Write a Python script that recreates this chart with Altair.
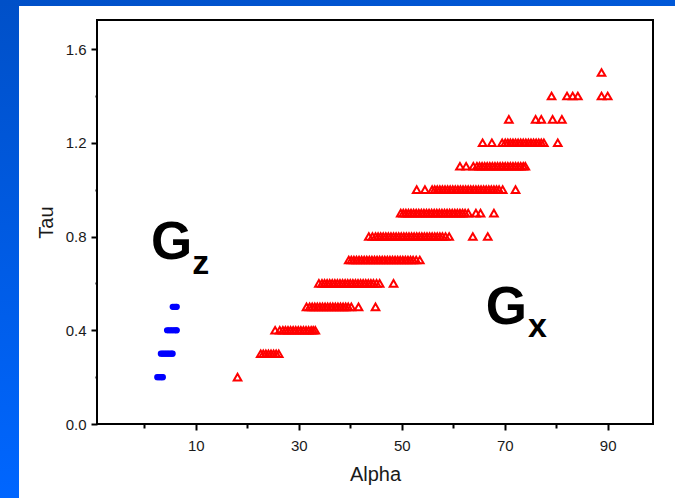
import altair as alt
import pandas as pd

# ---- data ----
gz_tau = [0.2, 0.3, 0.4, 0.5]
gz_alpha_rows = [
    [2.5, 2.8, 3.1, 3.4, 3.6],
    [3.2, 3.5, 3.8, 4.1, 4.4, 4.7, 5.0, 5.3, 5.5],
    [4.4, 4.7, 5.0, 5.3, 5.6, 5.9, 6.2, 6.3],
    [5.5, 5.8, 6.1, 6.3],
]

gx_tau = [0.2, 0.3, 0.4, 0.5, 0.6, 0.7, 0.8, 0.9, 1.0, 1.1, 1.2, 1.3, 1.4, 1.5]
gx_alpha_rows = [
    [18.1],
    [22.6, 23.1, 23.6, 24.1, 24.6, 25.1, 25.6, 26.1],
    [25.4, 26.3, 26.9, 27.4, 27.9, 28.4, 28.9, 29.4, 29.9, 30.4, 30.9, 31.4, 31.9,
     32.4, 32.8, 33.2],
    [31.5, 32.1, 32.6, 33.1, 33.6, 34.1, 34.6, 35.1, 35.6, 36.1, 36.6, 37.1, 37.6,
     38.1, 38.6, 39.1, 39.6, 40.2, 41.6, 44.9],
    [33.9, 34.5, 35.0, 35.5, 36.0, 36.5, 37.0, 37.5, 38.0, 38.5, 39.0, 39.5, 40.0,
     40.5, 41.0, 41.5, 42.0, 42.5, 43.0, 43.5, 44.0, 44.5, 45.1, 45.7, 48.4],
    [39.7, 40.2, 40.7, 41.2, 41.7, 42.2, 42.7, 43.2, 43.7, 44.2, 44.7, 45.2, 45.7,
     46.2, 46.7, 47.2, 47.7, 48.2, 48.7, 49.2, 49.7, 50.2, 50.7, 51.2, 51.7, 52.2,
     52.8, 53.5],
    [43.6, 44.3, 44.9, 45.4, 45.9, 46.4, 46.9, 47.4, 47.9, 48.4, 48.9, 49.4, 49.9,
     50.4, 50.9, 51.4, 51.9, 52.4, 52.9, 53.4, 53.9, 54.4, 54.9, 55.4, 55.9, 56.4,
     56.9, 57.4, 57.9, 58.5, 59.2, 63.8, 66.7],
    [49.8, 50.3, 50.8, 51.3, 51.8, 52.3, 52.8, 53.3, 53.8, 54.3, 54.8, 55.3, 55.8,
     56.3, 56.8, 57.3, 57.8, 58.3, 58.8, 59.3, 59.8, 60.3, 60.8, 61.3, 61.8, 62.3,
     62.9, 64.4, 65.3, 67.9],
    [52.9, 54.5, 55.9, 56.4, 56.9, 57.4, 57.9, 58.4, 58.9, 59.4, 59.9, 60.4, 60.9,
     61.4, 61.9, 62.4, 62.9, 63.4, 63.9, 64.4, 64.9, 65.4, 65.9, 66.4, 66.9, 67.4,
     67.9, 68.4, 68.9, 69.6, 72.1],
    [61.3, 62.5, 63.9, 64.6, 65.1, 65.6, 66.1, 66.6, 67.1, 67.6, 68.1, 68.6, 69.1,
     69.6, 70.1, 70.6, 71.1, 71.6, 72.1, 72.6, 73.1, 73.6, 74.0],
    [65.7, 67.5, 69.5, 70.1, 70.6, 71.1, 71.6, 72.1, 72.6, 73.1, 73.6, 74.1, 74.6,
     75.1, 75.6, 76.1, 76.6, 77.1, 77.6, 80.3],
    [70.8, 76.0, 77.1, 79.3, 81.1],
    [79.1, 82.1, 83.2, 84.2, 88.8, 90.0],
    [88.8],
]

x_ticks = [0, 10, 20, 30, 40, 50, 60, 70, 80, 90]
y_ticks = [0.0, 0.2, 0.4, 0.6, 0.8, 1.0, 1.2, 1.4, 1.6]

ann_text = ["G", "z", "G", "x"]
ann_alpha = [1.3, 9.3, 66.3, 74.5]
ann_tau = [0.704, 0.640, 0.427, 0.371]
ann_big = [True, False, True, False]

# ---- tables ----
df_z = pd.DataFrame(
    [(t, a) for t, row in zip(gz_tau, gz_alpha_rows) for a in row],
    columns=["tau", "alpha"],
)
df_x = pd.DataFrame(
    [(t, a) for t, row in zip(gx_tau, gx_alpha_rows) for a in row],
    columns=["tau", "alpha"],
)
df_ann = pd.DataFrame({"t": ann_text, "alpha": ann_alpha, "tau": ann_tau, "big": ann_big})

FONT = "Liberation Sans"
x_scale = alt.Scale(domain=[-9.2, 98.8], nice=False, zero=False)
y_scale = alt.Scale(domain=[0, 1.724], nice=False, zero=False)

x_axis = alt.Axis(
    values=x_ticks,
    title="Alpha",
    labelExpr="datum.value % 20 == 10 ? datum.label : ''",
    tickSize={"condition": {"test": "datum.value % 20 == 10", "value": 6}, "value": 4},
    tickWidth=2,
    tickColor="black",
    domain=False,
    grid=False,
    labelFont=FONT,
    labelFontSize=15,
    labelColor="#1a1a1a",
    labelPadding=8,
    titleFont=FONT,
    titleFontSize=20,
    titleFontWeight="normal",
    titleColor="#1a1a1a",
    titleBaseline="alphabetic",
    titleY=56,
)
y_axis = alt.Axis(
    values=y_ticks,
    title="Tau",
    format=".1f",
    labelExpr="round(datum.value * 10) % 4 == 0 ? datum.label : ''",
    tickSize={"condition": {"test": "round(datum.value * 10) % 4 == 0", "value": 6}, "value": 2},
    tickWidth=2,
    tickColor="black",
    domain=False,
    grid=False,
    labelFont=FONT,
    labelFontSize=15,
    labelColor="#1a1a1a",
    labelPadding=5,
    titleFont=FONT,
    titleFontSize=20,
    titleFontWeight="normal",
    titleColor="#1a1a1a",
    titleAngle=270,
    titleBaseline="alphabetic",
    titleX=-45,
)

base_x = alt.X("alpha:Q", scale=x_scale, axis=x_axis)
base_y = alt.Y("tau:Q", scale=y_scale, axis=y_axis)

gx_layer = alt.Chart(df_x).mark_point(
    shape="triangle-up", filled=False, color="#ff0000", size=58, strokeWidth=2, opacity=1
).encode(x=base_x, y=base_y)

gz_layer = alt.Chart(df_z).mark_circle(color="#0000ff", size=38, opacity=1).encode(
    x=base_x, y=base_y
)

ann_big_layer = alt.Chart(df_ann).transform_filter("datum.big").mark_text(
    font=FONT, fontSize=53, fontWeight="bold", align="left", baseline="alphabetic", color="black"
).encode(x=alt.X("alpha:Q", scale=x_scale), y=alt.Y("tau:Q", scale=y_scale), text="t:N")

ann_small_layer = alt.Chart(df_ann).transform_filter("!datum.big").mark_text(
    font=FONT, fontSize=34, fontWeight="bold", align="left", baseline="alphabetic", color="black"
).encode(x=alt.X("alpha:Q", scale=x_scale), y=alt.Y("tau:Q", scale=y_scale), text="t:N")

# slide-style blue border (decoration)
one = pd.DataFrame({"k": [0]})
left_strip = alt.Chart(one).mark_rect(
    color=alt.Gradient(
        gradient="linear",
        stops=[alt.GradientStop(color="#0050c8", offset=0), alt.GradientStop(color="#0066ff", offset=1)],
        x1=0, x2=0, y1=0, y2=1,
    )
).encode(x=alt.value(-97), x2=alt.value(-78), y=alt.value(-20), y2=alt.value(478))
top_strip = alt.Chart(one).mark_rect(
    color=alt.Gradient(
        gradient="linear",
        stops=[alt.GradientStop(color="#0050c8", offset=0), alt.GradientStop(color="#0058d8", offset=1)],
        x1=0, x2=1, y1=0, y2=0,
    )
).encode(x=alt.value(-97), x2=alt.value(578), y=alt.value(-20), y2=alt.value(-14))

chart = alt.layer(
    gx_layer, gz_layer, ann_big_layer, ann_small_layer, left_strip, top_strip
).properties(
    width=556,
    height=404,
    autosize=alt.AutoSizeParams(type="none"),
    padding={"left": 97, "top": 20, "right": 22, "bottom": 74},
    background="white",
).configure_view(stroke="black", strokeWidth=2)

chart.save("out.html", embed_options={"renderer": "svg", "actions": False})
